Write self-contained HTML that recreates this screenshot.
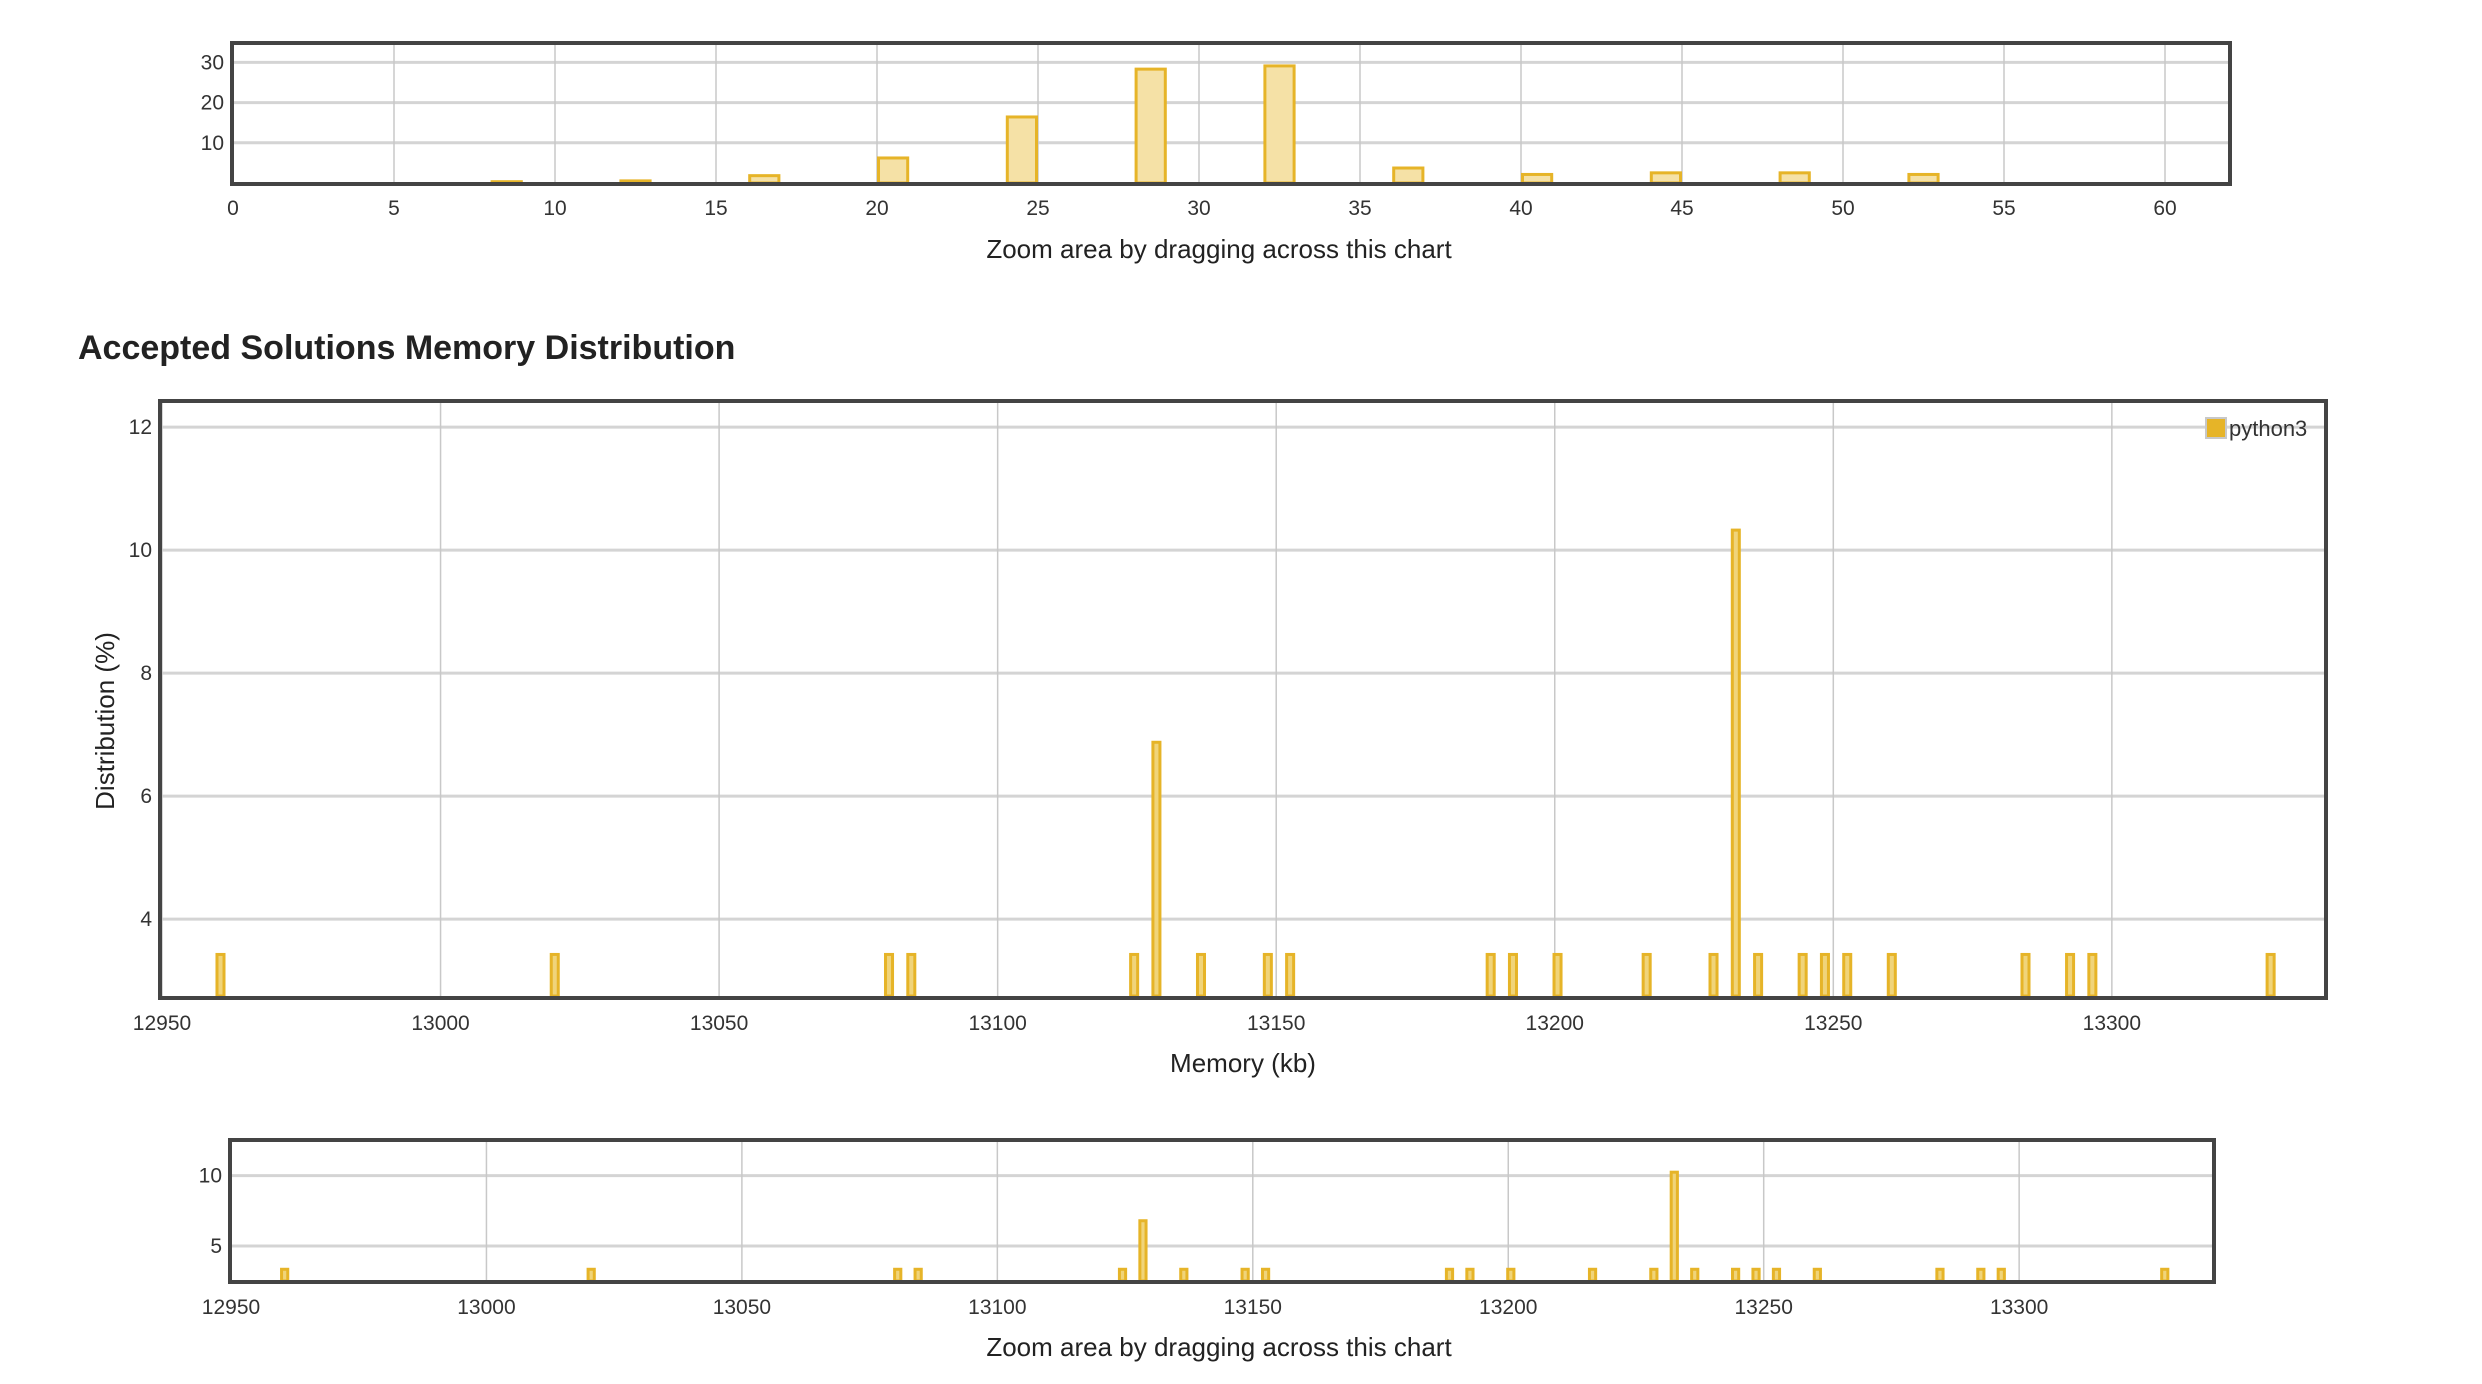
<!DOCTYPE html>
<html><head><meta charset="utf-8"><style>
html,body{margin:0;padding:0;background:#fff;width:2482px;height:1384px;overflow:hidden}
svg{display:block;font-family:"Liberation Sans",Arial,sans-serif}
</style></head><body>
<svg id="s" width="2482" height="1384" xmlns="http://www.w3.org/2000/svg">
<text x="78" y="359" font-size="34" font-weight="bold" fill="#222">Accepted Solutions Memory Distribution</text>
</svg>
<script>
// Top navigator (overview) histogram data
var topCats = [8,12,16,20,24,28,32,36,40,44,48,52];
var topVals = [0.7,0.9,2.2,6.6,16.8,28.7,29.5,4.1,2.5,2.9,2.9,2.5];
var topTicksX = [0,5,10,15,20,25,30,35,40,45,50,55,60];
var topTicksY = [10,20,30];
// Main memory distribution data
var memCats = [12960.5,13020.5,13080.5,13084.5,13124.5,13128.5,13136.5,13148.5,13152.5,13188.5,13192.5,13200.5,13216.5,13228.5,13232.5,13236.5,13244.5,13248.5,13252.5,13260.5,13284.5,13292.5,13296.5,13328.5];
var memVals = [3.45,3.45,3.45,3.45,3.45,6.9,3.45,3.45,3.45,3.45,3.45,3.45,3.45,3.45,10.35,3.45,3.45,3.45,3.45,3.45,3.45,3.45,3.45,3.45];
var memTicksX = [12950,13000,13050,13100,13150,13200,13250,13300];
var memTicksY = [4,6,8,10,12];
var navTicksY = [5,10];

var NS="http://www.w3.org/2000/svg", svg=document.getElementById('s');
function el(t,a,txt){var e=document.createElementNS(NS,t);for(var k in a)e.setAttribute(k,a[k]);if(txt!=null)e.textContent=txt;svg.appendChild(e);return e;}

function chart(o){
  var sx=function(v){return o.x0+(v-o.xmin)*o.kx;};
  var sy=function(v){return o.base-(v-o.ymin)*o.ky;};
  o.ticksY.forEach(function(t){
    var g=el('line',{x1:o.L,x2:o.R,y1:sy(t),y2:sy(t),stroke:'#d4d4d4','stroke-width':3});
    
    
    var l=el('text',{x:o.L-8,y:sy(t)+7,'font-size':21,'text-anchor':'end',fill:'#333'},String(t));
    
    
  });
  o.ticksX.forEach(function(t){
    var g=el('line',{x1:sx(t),x2:sx(t),y1:o.T,y2:o.base,stroke:'#c8c8c8','stroke-width':1.5});
    
    
    var l=el('text',{x:sx(t),y:o.tickY,'font-size':21,'text-anchor':'middle',fill:'#333'},String(t));
    
    
  });
  o.cats.forEach(function(c,i){
    var x1=sx(c-o.bw/2),x2=sx(c+o.bw/2),y=sy(o.vals[i]);
    var b=el('rect',{x:x1+1.5,y:y+1.5,width:Math.max(0,x2-x1-3),height:Math.max(0,o.base-y-1.5),fill:o.fill,stroke:'#e6b428','stroke-width':3});
    
    
  });
  var f=el('rect',{x:o.L,y:o.T,width:o.R-o.L,height:o.B-o.T,fill:'none',stroke:'#444','stroke-width':4});
  
  
}
chart({p:'overview',L:232,R:2230,T:43,B:184,base:183,x0:233,xmin:0,kx:32.2,ymin:0,ky:4.02,ticksX:topTicksX,ticksY:topTicksY,tickY:215,cats:topCats.map(function(c){return c+0.5;}),vals:topVals,bw:1,fill:'#f5e1a6'});
chart({p:'main',L:160,R:2326,T:401,B:998,base:996,x0:162,xmin:12950,kx:5.571,ymin:2.75,ky:61.5,ticksX:memTicksX,ticksY:memTicksY,tickY:1030,cats:memCats,vals:memVals,bw:1.8,fill:'#f0d47a'});
chart({p:'navigator',L:230,R:2214,T:1140,B:1282,base:1281,x0:231,xmin:12950,kx:5.109,ymin:2.51,ky:14.07,ticksX:memTicksX,ticksY:navTicksY,tickY:1314,cats:memCats,vals:memVals,bw:1.8,fill:'#f0d47a'});

var t1=el('text',{x:1219,y:258,'font-size':26,'text-anchor':'middle',fill:'#222'},'Zoom area by dragging across this chart');


var t2=el('text',{x:1243,y:1072,'font-size':26,'text-anchor':'middle',fill:'#222'},'Memory (kb)');


var t3=el('text',{x:0,y:0,'font-size':26,'text-anchor':'middle',fill:'#222',transform:'translate(114,721) rotate(-90)'},'Distribution (%)');


var t4=el('text',{x:1219,y:1356,'font-size':26,'text-anchor':'middle',fill:'#222'},'Zoom area by dragging across this chart');


var lg=el('rect',{x:2206,y:418,width:20,height:20,fill:'#e6b428',stroke:'#c8c8c8','stroke-width':2});


var lt=el('text',{x:2229,y:436,'font-size':22,fill:'#333'},'python3');


</script>
</body></html>
